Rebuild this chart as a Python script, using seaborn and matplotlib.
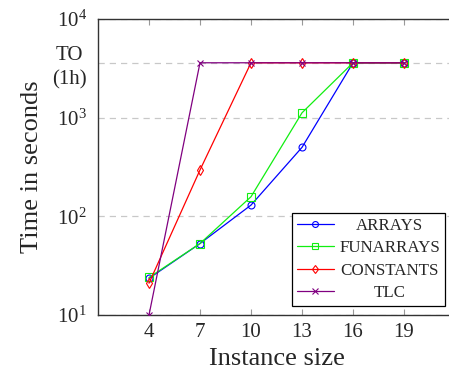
import matplotlib
matplotlib.use("Agg")
import matplotlib.pyplot as plt
from matplotlib.transforms import Affine2D
import seaborn as sns

# Benchmark results: runtime per instance size, 3600 s = timeout
sizes = [4, 7, 10, 13, 16, 19]
arrays = [23.5, 53, 130, 500, 3600, 3600]
funarrays = [24, 53, 158, 1120, 3600, 3600]
constants = [21, 295, 3600, 3600, 3600, 3600]
tlc = [10, 3600, 3600, 3600, 3600, 3600]

series_names = ["ARRAYS", "FUNARRAYS", "CONSTANTS", "TLC"]
series_values = [arrays, funarrays, constants, tlc]
series_colors = ["#0000ff", "#11ee11", "#ff0000", "#800080"]
series_markers = ["o", "s", "d", "x"]
series_msizes = [5.0, 5.5, 5.0, 4.5]

ytick_values = [10, 100, 1000, 3600, 10000]
ytick_labels = ["$10^{1}$", "$10^{2}$", "$10^{3}$", "TO\n(1h)", "$10^{4}$"]

sns.set_style("ticks")
plt.rcParams["font.family"] = ["Liberation Serif", "DejaVu Serif"]
plt.rcParams["mathtext.fontset"] = "custom"
plt.rcParams["mathtext.rm"] = "Liberation Serif"
plt.rcParams["mathtext.it"] = "Liberation Serif:italic"

fig = plt.figure(figsize=(4.49, 3.79), dpi=100)
ax = fig.add_axes([98 / 449, 1 - 315 / 379, 357 / 449, 296 / 379])

for name, vals, col, mk, ms in zip(series_names, series_values, series_colors,
                                   series_markers, series_msizes):
    sns.lineplot(x=sizes, y=vals, ax=ax, color=col, marker=mk, markersize=ms,
                 markerfacecolor="none", markeredgecolor=col, markeredgewidth=0.8,
                 linewidth=0.9, label=name, zorder=3)

ax.set_yscale("log")
ax.set_ylim(10, 10000)
ax.set_xlim(1, 22)
ax.set_xticks(sizes)
ax.set_xticklabels([str(s) for s in sizes])
ax.set_yticks(ytick_values)
ax.set_yticklabels(ytick_labels)
ax.yaxis.set_minor_locator(matplotlib.ticker.NullLocator())

ax.yaxis.grid(True, linestyle=(0, (5, 4)), color="#c8c8c8", linewidth=0.9, zorder=0)
ax.set_axisbelow(True)

ax.tick_params(axis="x", direction="in", length=4, width=0.8, color="#999999",
               top=True, labelsize=15, pad=6)
ax.tick_params(axis="y", direction="in", length=0, labelsize=15, pad=8)
for t in ax.get_yticklabels():
    t.set_linespacing(1.35)
    t.set_multialignment("center")

for sp in ax.spines.values():
    sp.set_color("#333333")
    sp.set_linewidth(1.0)

ax.set_xlabel("Instance size", fontsize=19, labelpad=4)
ax.set_ylabel("Time in seconds", fontsize=19, labelpad=7)

leg = ax.legend(loc="lower right", bbox_to_anchor=(0.972, 0.03), borderaxespad=0,
                fontsize=12.2, frameon=True, fancybox=False, edgecolor="black",
                framealpha=1, handlelength=2.2, handletextpad=0.3,
                labelspacing=0.38, borderpad=0.3, markerscale=0.85)
leg.get_frame().set_linewidth(0.9)

# centre the legend entries within the text column
fig.canvas.draw()
renderer = fig.canvas.get_renderer()
texts = leg.get_texts()
widths = [t.get_window_extent(renderer).width for t in texts]
wmax = max(widths)
for t, w in zip(texts, widths):
    t.set_transform(t.get_transform() + Affine2D().translate((wmax - w) / 2, 0))

fig.savefig("out.png", dpi=100)
